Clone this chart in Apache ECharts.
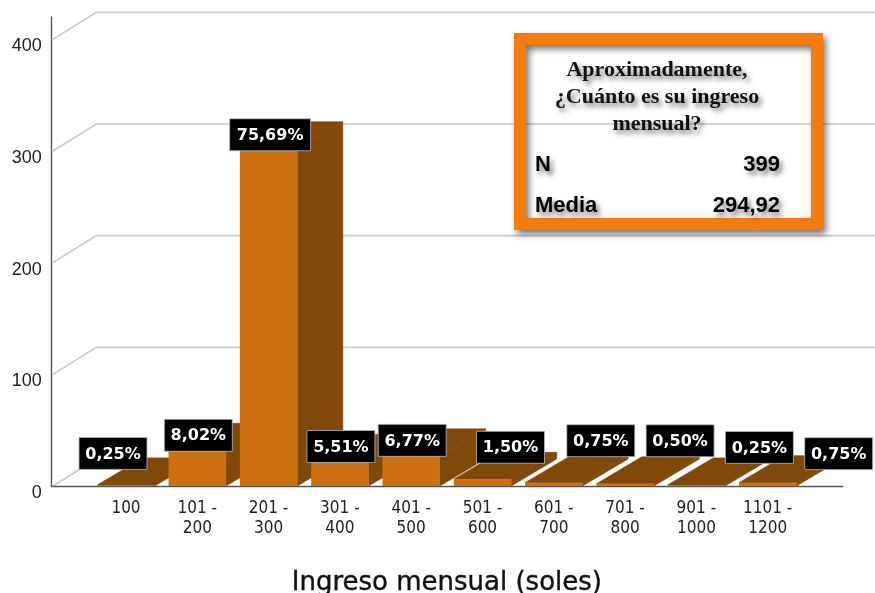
<!DOCTYPE html>
<html><head><meta charset="utf-8">
<style>html,body{margin:0;padding:0;background:#fff;overflow:hidden}#c{width:875px;height:593px}</style>
<script src="https://cdn.jsdelivr.net/npm/echarts@6/dist/echarts.min.js"></script>
</head><body><div id="c"></div>
<script>
const categories = ['100','101 -\n200','201 -\n300','301 -\n400','401 -\n500','501 -\n600','601 -\n700','701 -\n800','901 -\n1000','1101 -\n1200'];
const counts = [1,32,302,22,27,6,3,2,1,3];
const percentLabels = ['0,25%','8,02%','75,69%','5,51%','6,77%','1,50%','0,75%','0,50%','0,25%','0,75%'];
const yTicks = [0,100,200,300,400];
const boxTitle = 'Aproximadamente,\n¿Cuánto es su ingreso\nmensual?';
const boxRows = [['N','399'],['Media','294,92']];
const xAxisTitle = 'Ingreso mensual (soles)';

// layout (not data)
const DX = 45.5, DY = 27, WALL_GAP = 39.5, BAR_RATIO = 0.806;
const labelShift = [[-13,-31.5],[1,-15],[1.5,-14],[1,-15],[1,-15.5],[28,-32],[47,-42],[55,-43],[63,-37.5],[71,-29]];

const chart = echarts.init(document.getElementById('c'), null, {renderer:'canvas', width:875, height:593});

function wallItem(params, api){
  const v = api.value(1), y = api.coord([0, v])[1];
  const x0 = params.coordSys.x - WALL_GAP;
  const children = [];
  const style = {stroke:'#c9c9c9', lineWidth:1.6, fill:null};
  const pts = v === 0 ? [[x0+2,y],[x0+DX,y-DY]] : [[x0+2,y],[x0+DX,y-DY],[api.getWidth(),y-DY]];
  children.push({type:'polyline', shape:{points:pts}, style});
  if (v === 0) {
    children.push({type:'line', shape:{x1:x0, y1:y+0.5, x2:params.coordSys.x+params.coordSys.width+40, y2:y+0.5},
      style:{stroke:'#555', lineWidth:1.4}, z2:5});
  }
  return {type:'group', children};
}

function barItem(params, api){
  const i = api.value(0), v = api.value(1);
  const top = api.coord([i, v]), base = api.coord([i, 0]);
  const w = api.size([1,0])[0] * BAR_RATIO;
  const l = top[0] - w/2, r = top[0] + w/2, yt = top[1], yb = base[1];
  const dark = {fill:'#80490a', stroke:'#80490a', lineWidth:0.6};
  return {type:'group', children:[
    {type:'polygon', shape:{points:[[r,yb],[r+DX,yb-DY],[r+DX,yt-DY],[r,yt]]}, style:dark},
    {type:'polygon', shape:{points:[[l,yt],[r,yt],[r+DX,yt-DY],[l+DX,yt-DY]]}, style:dark},
    {type:'rect', shape:{x:l, y:yt, width:w, height:yb-yt}, style:{fill:'#cc7011'}}
  ]};
}

function labelItem(params, api){
  const i = api.value(0), v = api.value(1);
  const p = api.coord([i, v]), s = labelShift[i];
  const cx = p[0] + s[0], cy = p[1] + s[1];
  const txt = percentLabels[i], w = txt.length > 5 ? 81 : 68, h = 32;
  return {type:'group', children:[
    {type:'rect', shape:{x:cx-w/2, y:cy-h/2, width:w, height:h}, style:{fill:'#000', stroke:'#bdbdbd', lineWidth:0.8}},
    {type:'text', style:{x:cx, y:cy+1, text:txt, align:'center', verticalAlign:'middle', fill:'#fff',
      font:'bold 16px "DejaVu Sans"'}}
  ]};
}

const shadow = {textShadowColor:'rgba(0,0,0,0.5)', textShadowBlur:5, textShadowOffsetX:3, textShadowOffsetY:4};

chart.setOption({
  animation:false,
  backgroundColor:'#fff',
  grid:{left:90.35, width:713, top:17, height:469, containLabel:false, outerBoundsMode:'none'},
  xAxis:{type:'category', data:categories, boundaryGap:true,
    axisLine:{show:false}, axisTick:{show:false}, splitLine:{show:false},
    axisLabel:{interval:0, color:'#222', fontFamily:'DejaVu Sans Condensed', fontSize:17, lineHeight:20, margin:13},
    name:xAxisTitle, nameLocation:'middle', nameGap:84,
    nameTextStyle:{color:'#111', fontFamily:'DejaVu Sans', fontSize:26, textBorderColor:'#111', textBorderWidth:0.4}},
  yAxis:{type:'value', min:0, max:420, interval:100, offset:WALL_GAP,
    axisLine:{show:true, lineStyle:{color:'#555', width:1.4}}, axisTick:{show:false}, splitLine:{show:false},
    axisLabel:{color:'#222', fontFamily:'Liberation Sans', fontSize:18, margin:9, showMaxLabel:false, verticalAlign:'top', lineHeight:14}},
  series:[
    {type:'custom', coordinateSystem:'cartesian2d', clip:false, z:1, renderItem:wallItem,
      encode:{x:0,y:1}, data:yTicks.map(v=>[0,v])},
    {type:'custom', coordinateSystem:'cartesian2d', clip:false, z:2, renderItem:barItem,
      encode:{x:0,y:1}, data:counts.map((v,i)=>[i,v])},
    {type:'custom', coordinateSystem:'cartesian2d', clip:false, z:4, renderItem:labelItem,
      encode:{x:0,y:1}, data:counts.map((v,i)=>[i,v])}
  ],
  graphic:{elements:[
    {type:'rect', z:10, shape:{x:520, y:39, width:297, height:185},
      style:{fill:null, stroke:'#f57c0b', lineWidth:12, shadowColor:'rgba(0,0,0,0.55)', shadowBlur:7, shadowOffsetX:3, shadowOffsetY:4}},
    {type:'text', z:11, style:Object.assign({x:657, y:57, text:boxTitle, align:'center', verticalAlign:'top',
      font:'bold 22px "Liberation Serif"', lineHeight:27, fill:'#111'}, shadow)},
    ...boxRows.flatMap((r,i)=>[
      {type:'text', z:11, style:Object.assign({x:535, y:165+i*41, text:r[0], align:'left', verticalAlign:'middle',
        font:'bold 22px "Liberation Sans"', fill:'#000'}, shadow)},
      {type:'text', z:11, style:Object.assign({x:780, y:165+i*41, text:r[1], align:'right', verticalAlign:'middle',
        font:'bold 22px "Liberation Sans"', fill:'#000'}, shadow)}
    ])
  ]}
});
</script></body></html>
